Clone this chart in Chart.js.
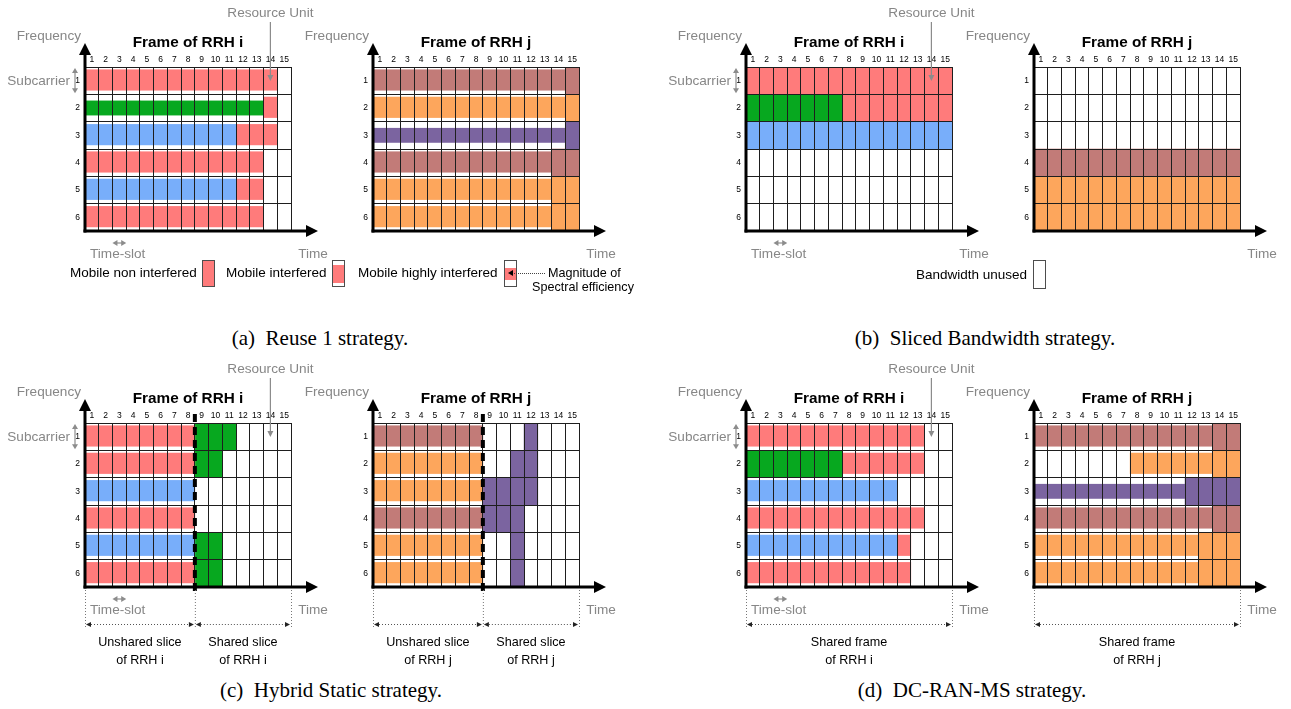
<!DOCTYPE html>
<html>
<head>
<meta charset="utf-8">
<script src="https://cdn.jsdelivr.net/npm/chart.js@4.4.1/dist/chart.umd.min.js"></script>
<style>
html,body{margin:0;padding:0;background:#fff;}
body{position:relative;width:1291px;height:709px;overflow:hidden;font-family:"Liberation Sans",Arial,sans-serif;}
canvas{position:absolute;}
.t{position:absolute;white-space:nowrap;line-height:1;}
.g{color:#878787;font-size:13.6px;}
.ttl{font-weight:bold;font-size:15.3px;color:#000;}
.lg{font-size:13.5px;color:#000;}
.sm{font-size:12.6px;color:#000;}
.cap{font-family:"Liberation Serif","Times New Roman",serif;font-size:21px;color:#000;}
.box{position:absolute;border:1px solid #4d4d4d;background:#fff;box-sizing:border-box;}
</style>
</head>
<body>
<script>
// ---------------- data ----------------
const timeSlots = ['1','2','3','4','5','6','7','8','9','10','11','12','13','14','15'];
const subcarriers = ['1','2','3','4','5','6'];
// user colour per resource unit: R/G/B = mobiles of RRH i, N/O/P = mobiles of RRH j, "." = unused
// spectral-efficiency magnitude: 3 = non interfered, 2 = interfered, 1 = highly interfered
const seMagnitude = {3:[0,1], 2:[0.1,0.85], 1:[0.24,0.76]};

const reuse1I_users = ["RRRRRRRRRRRRRR.","GGGGGGGGGGGGGR.","BBBBBBBBBBBRRR.","RRRRRRRRRRRRR..","BBBBBBBBBBBRR..","RRRRRRRRRRRRR.."];
const reuse1I_se    = ["22222222222222.","11111111111112.","22222222222222.","2222222222222..","2222222222222..","2222222222222.."];
const reuse1J_users = ["NNNNNNNNNNNNNNN","OOOOOOOOOOOOOOO","PPPPPPPPPPPPPPP","NNNNNNNNNNNNNNN","OOOOOOOOOOOOOOO","OOOOOOOOOOOOOOO"];
const reuse1J_se    = ["222222222222223","222222222222223","111111111111113","222222222222233","222222222222233","222222222222233"];

const slicedI_users = ["RRRRRRRRRRRRRRR","GGGGGGGRRRRRRRR","BBBBBBBBBBBBBBB","...............","...............","..............."];
const slicedI_se    = ["333333333333333","333333333333333","333333333333333","...............","...............","..............."];
const slicedJ_users = ["...............","...............","...............","NNNNNNNNNNNNNNN","OOOOOOOOOOOOOOO","OOOOOOOOOOOOOOO"];
const slicedJ_se    = ["...............","...............","...............","333333333333333","333333333333333","333333333333333"];

const hybridI_users = ["RRRRRRRRGGG....","RRRRRRRRGG.....","BBBBBBBB.......","RRRRRRRR.......","BBBBBBBBGG.....","RRRRRRRRGG....."];
const hybridI_se    = ["22222222333....","2222222233.....","22222222.......","22222222.......","2222222233.....","2222222233....."];
const hybridJ_users = ["NNNNNNNN...P...","OOOOOOOO..PP...","OOOOOOOOPPPP...","NNNNNNNNPPP....","OOOOOOOO..P....","OOOOOOOO..P...."];
const hybridJ_se    = ["22222222...3...","22222222..33...","222222223333...","22222222333....","22222222..3....","22222222..3...."];

const dcranI_users = ["RRRRRRRRRRRRR..","GGGGGGGRRRRRR..","BBBBBBBBBBB....","RRRRRRRRRRRRR..","BBBBBBBBBBBR...","RRRRRRRRRRRR..."];
const dcranI_se    = ["2222222222222..","3333333222222..","22222222222....","2222222222222..","222222222222...","222222222222..."];
const dcranJ_users = ["NNNNNNNNNNNNNNN",".......OOOOOOOO","PPPPPPPPPPPPPPP","NNNNNNNNNNNNNNN","OOOOOOOOOOOOOOO","OOOOOOOOOOOOOOO"];
const dcranJ_se    = ["222222222222233",".......22222233","111111111113333","222222222222233","222222222222333","222222222222333"];

// ---------------- styling / layout ----------------
const palette = {R:'#ff7b7b', G:'#07a81f', B:'#78aefa', N:'#c27b78', O:'#fda65c', P:'#7b64a0'};
const M = 50, GW = 206, GH = 164;
const frames = [
  {users:reuse1I_users, se:reuse1I_se, left:85,   top:67,  rrh:'i', ru:true},
  {users:reuse1J_users, se:reuse1J_se, left:373,  top:67,  rrh:'j'},
  {users:slicedI_users, se:slicedI_se, left:746,  top:67,  rrh:'i', ru:true},
  {users:slicedJ_users, se:slicedJ_se, left:1034, top:67,  rrh:'j'},
  {users:hybridI_users, se:hybridI_se, left:85,   top:423, rrh:'i', ru:true, split:8, bracket:[0,8,15], blabels:[['Unshared slice','of RRH i'],['Shared slice','of RRH i']]},
  {users:hybridJ_users, se:hybridJ_se, left:373,  top:423, rrh:'j', split:8, bracket:[0,8,15], blabels:[['Unshared slice','of RRH j'],['Shared slice','of RRH j']]},
  {users:dcranI_users,  se:dcranI_se,  left:746,  top:423, rrh:'i', ru:true, bracket:[0,15], blabels:[['Shared frame','of RRH i']]},
  {users:dcranJ_users,  se:dcranJ_se,  left:1034, top:423, rrh:'j', bracket:[0,15], blabels:[['Shared frame','of RRH j']]}
];

Chart.defaults.font.family = "'Liberation Sans', Arial, sans-serif";

function buildDatasets(users, se){
  const ds = [];
  users.forEach((row, r) => {
    const keys = [...new Set(row.replace(/\./g,'').split(''))];
    keys.forEach(k => {
      const data = timeSlots.map((_, c) => {
        if (row[c] !== k) return null;
        const span = seMagnitude[se[r][c]];
        return [r + span[0], r + span[1]];
      });
      ds.push({data, backgroundColor: palette[k], borderWidth: 0, grouped: false,
               barPercentage: 1, categoryPercentage: 1});
    });
  });
  return ds;
}

function head(ctx, x, y, dir, len, half){
  ctx.beginPath();
  if (dir==='up'){ctx.moveTo(x,y);ctx.lineTo(x-half,y+len);ctx.lineTo(x+half,y+len);}
  else if (dir==='down'){ctx.moveTo(x,y);ctx.lineTo(x-half,y-len);ctx.lineTo(x+half,y-len);}
  else if (dir==='right'){ctx.moveTo(x,y);ctx.lineTo(x-len,y-half);ctx.lineTo(x-len,y+half);}
  else {ctx.moveTo(x,y);ctx.lineTo(x+len,y-half);ctx.lineTo(x+len,y+half);}
  ctx.closePath(); ctx.fill();
}

const decor = {
  id: 'decor',
  afterDraw(chart, args, o){
    const {ctx, chartArea: a, scales: {x, y}} = chart;
    const colW = x.getPixelForValue(1) - x.getPixelForValue(0);
    const bx = k => x.getPixelForValue(0) - colW/2 + k*colW;
    ctx.save();
    if (o.split){
      ctx.strokeStyle = '#000'; ctx.lineWidth = 4; ctx.setLineDash([8,5]);
      ctx.beginPath(); ctx.moveTo(bx(o.split), a.top-9); ctx.lineTo(bx(o.split), a.bottom+7); ctx.stroke();
      ctx.setLineDash([]);
    }
    ctx.strokeStyle = '#000'; ctx.fillStyle = '#000'; ctx.lineWidth = 3;
    ctx.beginPath(); ctx.moveTo(a.left, a.bottom+1.5); ctx.lineTo(a.left, a.top-14); ctx.stroke();
    head(ctx, a.left, a.top-24, 'up', 12, 6);
    ctx.beginPath(); ctx.moveTo(a.left-1.5, a.bottom); ctx.lineTo(a.right+16, a.bottom); ctx.stroke();
    head(ctx, a.right+27, a.bottom, 'right', 12, 6);
    if (o.ru){
      ctx.strokeStyle = '#8c8c8c'; ctx.fillStyle = '#8c8c8c'; ctx.lineWidth = 1.2;
      const xr = x.getPixelForValue(13);
      ctx.beginPath(); ctx.moveTo(xr, a.top-45); ctx.lineTo(xr, a.top+9); ctx.stroke();
      head(ctx, xr, a.top+14, 'down', 6, 3);
      const xs = a.left-10, y0 = a.top+1, y1 = y.getPixelForValue(1)-1;
      ctx.beginPath(); ctx.moveTo(xs, y0+4); ctx.lineTo(xs, y1-4); ctx.stroke();
      head(ctx, xs, y0, 'up', 5, 3); head(ctx, xs, y1, 'down', 5, 3);
      const ys = a.bottom+12, x0 = bx(2), x1 = bx(3);
      ctx.beginPath(); ctx.moveTo(x0+4, ys); ctx.lineTo(x1-4, ys); ctx.stroke();
      head(ctx, x0, ys, 'left', 5, 3); head(ctx, x1, ys, 'right', 5, 3);
    }
    if (o.bracket){
      ctx.lineWidth = 1;
      ctx.strokeStyle = '#777'; ctx.setLineDash([1,2]);
      o.bracket.forEach(k => {
        ctx.beginPath(); ctx.moveTo(bx(k)+0.5, a.bottom+3); ctx.lineTo(bx(k)+0.5, a.bottom+40); ctx.stroke();
      });
      const yb = a.bottom+37.5;
      for (let i=0;i<o.bracket.length-1;i++){
        const p0 = bx(o.bracket[i])+1, p1 = bx(o.bracket[i+1])-1;
        ctx.strokeStyle = '#555';
        ctx.beginPath(); ctx.moveTo(p0+5, yb); ctx.lineTo(p1-5, yb); ctx.stroke();
        ctx.fillStyle = '#222';
        head(ctx, p0, yb, 'left', 5, 2.5); head(ctx, p1, yb, 'right', 5, 2.5);
      }
      ctx.setLineDash([]);
    }
    ctx.restore();
  }
};

function txt(str, x, y, cls, anchor){
  const d = document.createElement('div');
  d.className = 't ' + cls; d.textContent = str;
  d.style.left = x + 'px'; d.style.top = y + 'px';
  const tx = anchor === 'c' ? '-50%' : anchor === 'r' ? '-100%' : '0';
  d.style.transform = 'translate(' + tx + ',-50%)';
  document.body.appendChild(d);
  return d;
}

frames.forEach(f => {
  const cv = document.createElement('canvas');
  cv.width = GW + 2*M; cv.height = GH + 2*M;
  cv.style.width = cv.width + 'px'; cv.style.height = cv.height + 'px';
  cv.style.left = (f.left - M) + 'px'; cv.style.top = (f.top - M) + 'px';
  document.body.appendChild(cv);
  const chart = new Chart(cv, {
    type: 'bar',
    data: {labels: timeSlots, datasets: buildDatasets(f.users, f.se)},
    options: {
      responsive: false, animation: false, events: [],
      layout: {padding: {left: 0, top: 0, right: M, bottom: M}},
      plugins: {legend: {display: false}, tooltip: {enabled: false}, title: {display: false},
                decor: {ru: !!f.ru, split: f.split, bracket: f.bracket}},
      scales: {
        x: {type: 'category', position: 'top', offset: true,
            grid: {offset: true, color: '#1e1e1e', lineWidth: 1, drawTicks: false, z: 1},
            border: {display: false},
            ticks: {font: {size: 8.5}, color: '#000', padding: 2, maxRotation: 0, autoSkip: false},
            afterFit: s => { s.height = M; }},
        y: {type: 'linear', min: 0, max: 6, reverse: true,
            afterBuildTicks: s => { const t = []; for (let v = 0; v <= 6; v += 0.5) t.push({value: v}); s.ticks = t; },
            grid: {color: c => (c.tick && c.tick.value % 1 === 0) ? '#1e1e1e' : 'rgba(0,0,0,0)', lineWidth: 1, drawTicks: false, z: 1},
            border: {display: false},
            ticks: {font: {size: 8.5}, color: '#000', padding: 5, autoSkip: false,
                    callback: v => (v % 1 !== 0) ? subcarriers[Math.floor(v)] : ''},
            afterFit: s => { s.width = M; }}
      }
    },
    plugins: [decor]
  });
  const a = chart.chartArea;
  cv.style.left = (f.left - a.left) + 'px'; cv.style.top = (f.top - a.top) + 'px';

  txt('Frame of RRH ' + f.rrh, f.left + GW/2, f.top - 25, 'ttl', 'c');
  txt('Frequency', f.left - 4, f.top - 31, 'g', 'r');
  txt('Time', f.left + GW + 22, f.top + GH + 23, 'g', 'c');
  if (f.ru){
    txt('Resource Unit', f.left + 13.5*GW/15, f.top - 54, 'g', 'c');
    txt('Subcarrier', f.left - 15, f.top + 14, 'g', 'r');
    txt('Time-slot', f.left + 5, f.top + GH + 23, 'g', 'l');
  }
  if (f.bracket){
    for (let i = 0; i < f.bracket.length - 1; i++){
      const cx = f.left + (f.bracket[i] + f.bracket[i+1]) / 2 * GW / 15;
      txt(f.blabels[i][0], cx, f.top + GH + 55, 'sm', 'c');
      txt(f.blabels[i][1], cx, f.top + GH + 73, 'sm', 'c');
    }
  }
});

function box(x, y, w, h, fillTop, fillBot, color){
  const b = document.createElement('div'); b.className = 'box';
  b.style.left = x+'px'; b.style.top = y+'px'; b.style.width = w+'px'; b.style.height = h+'px';
  document.body.appendChild(b);
  if (color){
    const f = document.createElement('div');
    f.style.position = 'absolute'; f.style.left = '0'; f.style.right = '0';
    f.style.top = fillTop + 'px'; f.style.height = (fillBot - fillTop) + 'px'; f.style.background = color;
    b.appendChild(f);
  }
}
txt('Mobile non interfered', 70, 273, 'lg', 'l');
box(202, 260, 13, 27, 0, 25, palette.R);
txt('Mobile interfered', 226, 273, 'lg', 'l');
box(332, 260, 13, 27, 4, 22, palette.R);
txt('Mobile highly interfered', 358, 273, 'lg', 'l');
box(504, 260, 13, 27, 6.5, 18.5, palette.R);
(function(){
  const h = document.createElement('div');
  h.style.cssText = 'position:absolute;left:508px;top:270px;width:0;height:0;border-top:3px solid transparent;border-bottom:3px solid transparent;border-right:5px solid #000;';
  document.body.appendChild(h);
  const l = document.createElement('div');
  l.style.cssText = 'position:absolute;left:514px;top:273px;width:31px;height:0;border-top:1px dotted #444;';
  document.body.appendChild(l);
})();
txt('Magnitude of', 548, 273, 'sm', 'l');
txt('Spectral efficiency', 532, 287, 'sm', 'l');
txt('Bandwidth unused', 1027, 275, 'lg', 'r');
box(1033, 260, 13, 29, 0, 0, null);

txt('(a)\u2002Reuse 1 strategy.', 320, 338, 'cap', 'c');
txt('(b)\u2002Sliced Bandwidth strategy.', 985, 338, 'cap', 'c');
txt('(c)\u2002Hybrid Static strategy.', 331, 690, 'cap', 'c');
txt('(d)\u2002DC-RAN-MS strategy.', 972, 690, 'cap', 'c');
</script>
</body>
</html>
